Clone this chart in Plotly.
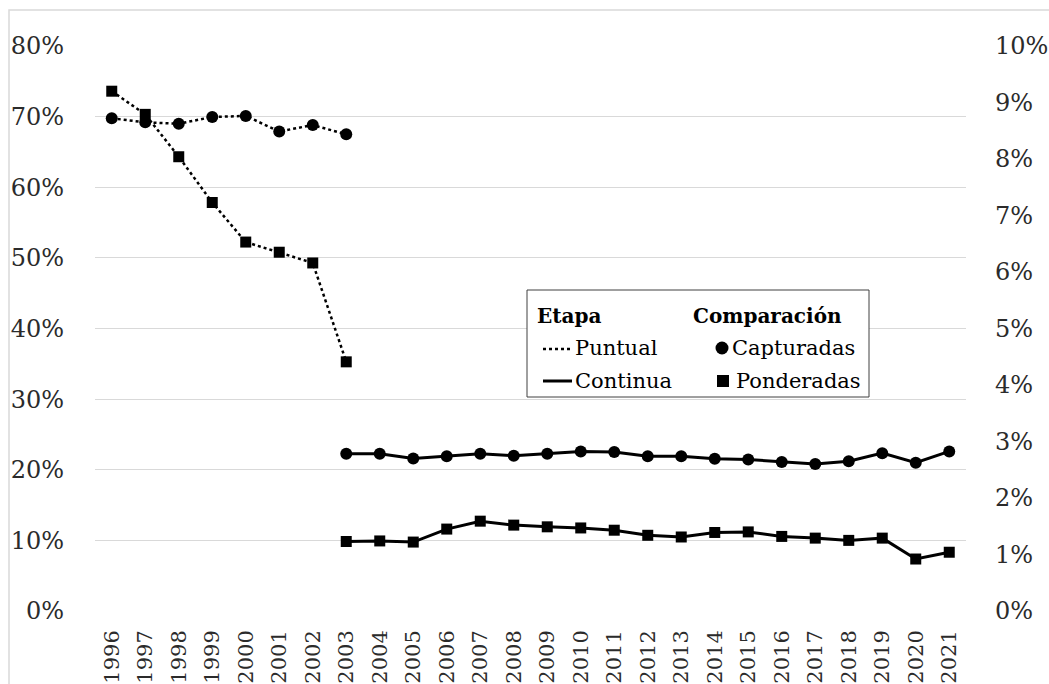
import plotly.graph_objects as go

years_puntual = ["1996", "1997", "1998", "1999", "2000", "2001", "2002", "2003"]
years_continua = [str(y) for y in range(2003, 2022)]

capturadas_puntual = [0.6976, 0.692, 0.690, 0.6995, 0.701, 0.679, 0.688, 0.675]
ponderadas_puntual = [0.092, 0.0879, 0.0804, 0.0723, 0.0653, 0.0635, 0.0616, 0.0441]

capturadas_continua = [0.2226, 0.2226, 0.216, 0.219, 0.2226, 0.2197, 0.2226, 0.226, 0.225,
                       0.219, 0.219, 0.2155, 0.2145, 0.211, 0.208, 0.212, 0.2235, 0.210, 0.226]
ponderadas_continua = [0.0123, 0.0124, 0.0122, 0.0145, 0.0159, 0.0152, 0.0149, 0.0147, 0.0143,
                       0.0134, 0.0131, 0.0139, 0.0140, 0.0132, 0.0129, 0.0125, 0.0129, 0.0092, 0.0104]

all_years = [str(y) for y in range(1996, 2022)]

FONT = "DejaVu Serif"
BLACK = "#000000"
TXT = "#2b2b2b"

L, R, T, B = 95, 966, 46, 611  # plot area in pixels
W, H = 1049, 684

fig = go.Figure()
fig.add_trace(go.Scatter(x=years_puntual, y=capturadas_puntual, mode="lines+markers",
                         line=dict(color=BLACK, width=2.5, dash="dot"),
                         marker=dict(symbol="circle", size=12, color=BLACK), yaxis="y"))
fig.add_trace(go.Scatter(x=years_puntual, y=ponderadas_puntual, mode="lines+markers",
                         line=dict(color=BLACK, width=2.5, dash="dot"),
                         marker=dict(symbol="square", size=11, color=BLACK), yaxis="y2"))
fig.add_trace(go.Scatter(x=years_continua, y=capturadas_continua, mode="lines+markers",
                         line=dict(color=BLACK, width=3),
                         marker=dict(symbol="circle", size=12, color=BLACK), yaxis="y"))
fig.add_trace(go.Scatter(x=years_continua, y=ponderadas_continua, mode="lines+markers",
                         line=dict(color=BLACK, width=3),
                         marker=dict(symbol="square", size=11, color=BLACK), yaxis="y2"))

fig.update_layout(
    width=W, height=H,
    margin=dict(l=L, r=W - R, t=T, b=H - B, autoexpand=False),
    paper_bgcolor="white", plot_bgcolor="white",
    showlegend=False,
    font=dict(family=FONT, color=TXT, size=24),
    xaxis=dict(type="category", categoryorder="array", categoryarray=all_years,
               tickangle=-90, tickfont=dict(size=21, color=TXT),
               showgrid=False, showline=False, ticks="", range=[-0.5, 25.5],
               ticklabelstandoff=14),
    yaxis=dict(range=[0, 0.8], tickformat=".0%", dtick=0.1, showgrid=True,
               gridcolor="#d9d9d9", gridwidth=1, zeroline=False, showline=False,
               tickfont=dict(size=24, color=TXT), ticks="", ticklabelstandoff=30),
    yaxis2=dict(range=[0, 0.1], tickformat=".0%", dtick=0.01, overlaying="y", side="right",
                showgrid=False, zeroline=False, showline=False,
                tickfont=dict(size=24, color=TXT), ticks="", ticklabelstandoff=28),
)

def px_x(p):
    return (p - L) / float(R - L)

def px_y(p):
    return (B - p) / float(B - T)

# outer chart border (extends off the right/bottom edges)
fig.add_shape(type="rect", xref="paper", yref="paper", x0=px_x(9), x1=px_x(1060),
              y0=px_y(700), y1=px_y(10), line=dict(color="#d9d9d9", width=1.5), layer="below")

# custom legend
fig.add_shape(type="rect", xref="paper", yref="paper", x0=px_x(527), x1=px_x(869),
              y0=px_y(397), y1=px_y(290),
              line=dict(color="#404040", width=1), fillcolor="white")

def label(x, y, text, size=21):
    fig.add_annotation(xref="paper", yref="paper", x=px_x(x), y=px_y(y), text=text,
                       showarrow=False, xanchor="left", yanchor="middle",
                       font=dict(family=FONT, size=size, color=BLACK))

label(535, 316, "<b>Etapa</b>", 20)
label(691, 316, "<b>Comparación</b>", 20)
label(573, 348, "Puntual")
label(573, 381, "Continua")
label(730, 348, "Capturadas")
label(734, 381, "Ponderadas")

fig.add_shape(type="line", xref="paper", yref="paper", x0=px_x(543), x1=px_x(572),
              y0=px_y(349), y1=px_y(349), line=dict(color=BLACK, width=2.5, dash="dot"))
fig.add_shape(type="line", xref="paper", yref="paper", x0=px_x(543), x1=px_x(572),
              y0=px_y(381), y1=px_y(381), line=dict(color=BLACK, width=3))
fig.add_shape(type="circle", xref="paper", yref="paper", xsizemode="pixel", ysizemode="pixel",
              xanchor=px_x(722), yanchor=px_y(348), x0=-6.5, x1=6.5, y0=-6.5, y1=6.5,
              fillcolor=BLACK, line=dict(color=BLACK, width=0))
fig.add_shape(type="rect", xref="paper", yref="paper", xsizemode="pixel", ysizemode="pixel",
              xanchor=px_x(723), yanchor=px_y(381), x0=-6, x1=6, y0=-6, y1=6,
              fillcolor=BLACK, line=dict(color=BLACK, width=0))

fig.write_html("out.html", config={"displayModeBar": False},
               post_script="document.body.style.margin='0';document.body.style.overflow='hidden';")
